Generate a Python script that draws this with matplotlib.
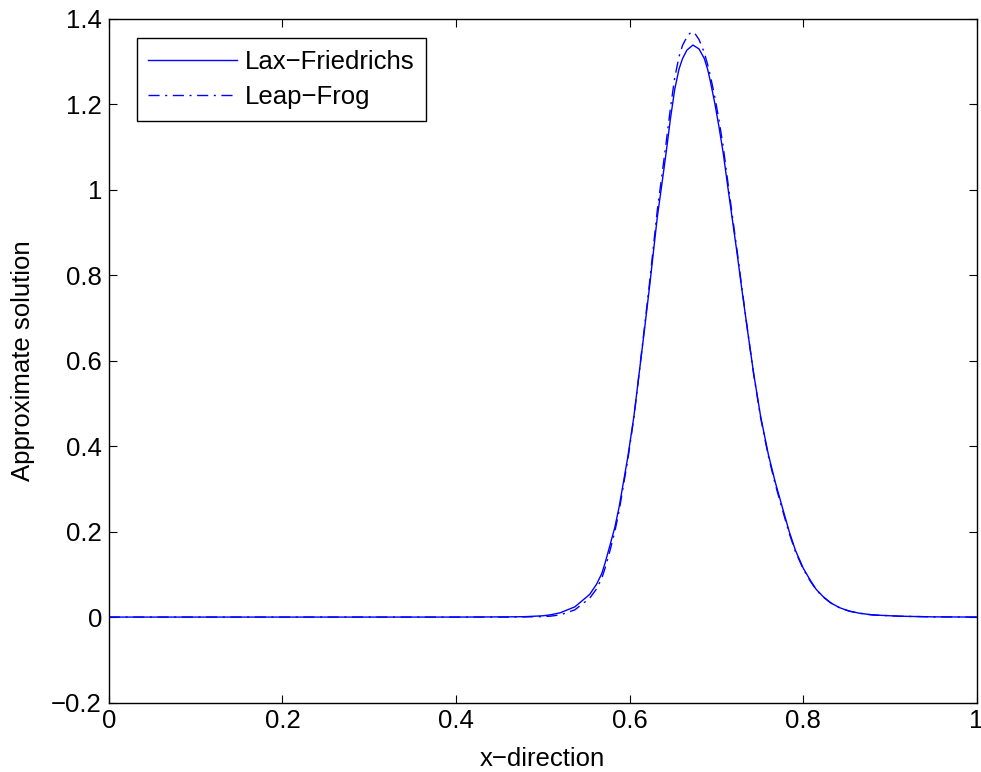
import matplotlib
matplotlib.use('Agg')
import matplotlib.pyplot as plt

plt.rcParams['font.family'] = ['Liberation Sans', 'DejaVu Sans']

# values
x_lf = [0.0, 0.2, 0.4, 0.46, 0.48, 0.50, 0.508, 0.52, 0.537, 0.554, 0.562, 0.568,
        0.572, 0.577, 0.583, 0.588, 0.598, 0.605, 0.611, 0.617, 0.623, 0.632, 0.637,
        0.642, 0.647, 0.652, 0.657, 0.661, 0.666, 0.673, 0.680, 0.686, 0.690,
        0.693, 0.698, 0.703, 0.708, 0.713, 0.718, 0.724, 0.729, 0.736, 0.743,
        0.751, 0.760, 0.768, 0.777, 0.784, 0.791, 0.800, 0.808, 0.815, 0.823,
        0.832, 0.842, 0.853, 0.865, 0.880, 0.912, 0.95, 1.0]
y_lf = [0.0, 0.0, 0.0, 0.0005, 0.001, 0.003, 0.005, 0.010, 0.024, 0.053, 0.077, 0.102,
        0.128, 0.165, 0.210, 0.258, 0.375, 0.470, 0.570, 0.670, 0.773, 0.937, 1.010,
        1.085, 1.165, 1.235, 1.283, 1.307, 1.327, 1.339, 1.330, 1.308, 1.282,
        1.255, 1.205, 1.148, 1.085, 1.010, 0.937, 0.850, 0.773, 0.670, 0.570,
        0.470, 0.380, 0.315, 0.250, 0.200, 0.157, 0.115, 0.087, 0.065, 0.048,
        0.033, 0.022, 0.014, 0.009, 0.005, 0.002, 0.0005, 0.0]

x_lfg = [0.0, 0.2, 0.4, 0.46, 0.48, 0.50, 0.508, 0.52, 0.537, 0.554, 0.562, 0.568,
         0.572, 0.577, 0.583, 0.588, 0.598, 0.605, 0.611, 0.617, 0.623, 0.632, 0.637,
         0.642, 0.647, 0.652, 0.657, 0.661, 0.664, 0.668, 0.672, 0.676, 0.680,
         0.686, 0.690, 0.693, 0.698, 0.703, 0.708, 0.713, 0.718, 0.724, 0.729,
         0.736, 0.743, 0.751, 0.760, 0.768, 0.777, 0.784, 0.791, 0.800, 0.808,
         0.815, 0.823, 0.832, 0.842, 0.853, 0.865, 0.880, 0.912, 0.95, 1.0]
y_lfg = [0.0, 0.0, 0.0, 0.0, 0.0005, 0.001, 0.002, 0.005, 0.017, 0.044, 0.066, 0.091,
         0.116, 0.152, 0.200, 0.249, 0.369, 0.467, 0.570, 0.675, 0.782, 0.953, 1.030,
         1.108, 1.190, 1.262, 1.312, 1.338, 1.350, 1.364, 1.370, 1.364, 1.352,
         1.322, 1.293, 1.268, 1.220, 1.164, 1.100, 1.022, 0.946, 0.856, 0.777,
         0.671, 0.569, 0.467, 0.376, 0.310, 0.245, 0.196, 0.154, 0.113, 0.085,
         0.064, 0.047, 0.033, 0.022, 0.014, 0.009, 0.005, 0.002, 0.0005, 0.0]

xticks = [0, 0.2, 0.4, 0.6, 0.8, 1.0]
xtick_labels = ['0', '0.2', '0.4', '0.6', '0.8', '1']
yticks = [-0.2, 0, 0.2, 0.4, 0.6, 0.8, 1.0, 1.2, 1.4]
ytick_labels = ['\u22120.2', '0', '0.2', '0.4', '0.6', '0.8', '1', '1.2', '1.4']

fs = 18.5

fig = plt.figure(figsize=(9.81, 7.72), dpi=100)
ax = fig.add_axes([0.111, 0.090, 0.8846, 0.8854])

ax.plot(x_lf, y_lf, color='#0000ff', lw=1.0, linestyle='-', label='Lax\u2212Friedrichs')
ax.plot(x_lfg, y_lfg, color='#0000ff', lw=1.0, linestyle=(0, (8, 4, 1.5, 4)),
        label='Leap\u2212Frog')

ax.set_xlim(0, 1)
ax.set_ylim(-0.2, 1.4)
ax.set_xticks(xticks)
ax.set_xticklabels(xtick_labels)
ax.set_yticks(yticks)
ax.set_yticklabels(ytick_labels)
ax.tick_params(direction='in', top=True, right=True, length=6, width=0.8,
               labelsize=fs, pad=5)
for s in ax.spines.values():
    s.set_linewidth(1.0)

ax.set_xlabel('x\u2212direction', fontsize=fs, labelpad=10)
ax.set_ylabel('Approximate solution', fontsize=fs, labelpad=12)

leg = ax.legend(loc='upper left', bbox_to_anchor=(0.0319, 0.9718), borderaxespad=0,
                fontsize=fs, handlelength=3.45, handletextpad=0.32,
                borderpad=0.45, labelspacing=0.45, fancybox=False, framealpha=1)
leg.get_frame().set_edgecolor('black')
leg.get_frame().set_linewidth(1.0)

fig.savefig('out.png', dpi=100)
